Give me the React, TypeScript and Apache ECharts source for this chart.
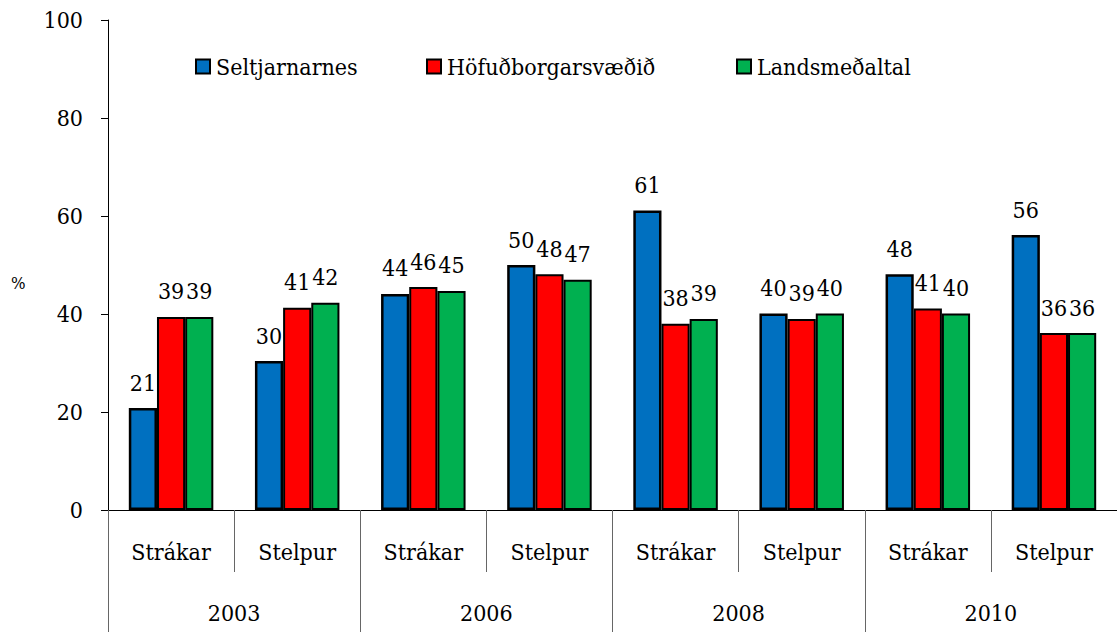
import React, { useEffect, useRef } from "react";
import * as echarts from "echarts";

const subCategories = ["Strákar", "Stelpur", "Strákar", "Stelpur", "Strákar", "Stelpur", "Strákar", "Stelpur"];
const years = ["2003", "2006", "2008", "2010"];
const seriesNames = ["Seltjarnarnes", "Höfuðborgarsvæðið", "Landsmeðaltal"];
const seltjarnarnes = [20.8, 30.4, 44.1, 50.0, 61.1, 40.1, 48.1, 56.1];
const hofudborgarsvaedid = [39.4, 41.3, 45.5, 48.1, 38.0, 39.0, 41.1, 36.1];
const landsmedaltal = [39.4, 42.3, 44.7, 47.0, 39.0, 40.1, 40.1, 36.1];
const colors = ["#0070C0", "#FF0000", "#00B050"];

const FONT = "DejaVu Serif Condensed";
const FS = 23;

export default function App() {
  const ref = useRef<HTMLDivElement>(null);
  useEffect(() => {
    if (!ref.current) return;
    const chart = echarts.init(ref.current, undefined, { renderer: "svg" });
    const values = [seltjarnarnes, hofudborgarsvaedid, landsmedaltal];
    const legendLefts = [195, 426, 736];
    const legendGraphics = seriesNames.map((n, i) => ({
      type: "group",
      left: legendLefts[i],
      top: 55,
      children: [
        {
          type: "rect",
          shape: { x: 0, y: 5, width: 14, height: 14 },
          style: { fill: colors[i], stroke: "#000", lineWidth: 2 },
        },
        {
          type: "text",
          x: 20,
          y: 12,
          style: {
            text: n,
            fontFamily: FONT,
            fontSize: FS,
            fill: "#000",
            verticalAlign: "middle",
            align: "left",
          },
        },
      ],
    }));
    chart.setOption({
      animation: false,
      textStyle: { fontFamily: FONT, color: "#000" },
      grid: { left: 108, right: -7, top: 20, bottom: 122, containLabel: false },
      xAxis: [
        {
          type: "category",
          data: subCategories,
          position: "bottom",
          axisLine: { show: true, lineStyle: { color: "#000", width: 1 } },
          axisTick: { show: true, interval: 0, length: 62, lineStyle: { color: "#666", width: 1 } },
          axisLabel: { interval: 0, margin: 30, fontSize: FS, color: "#000", fontFamily: FONT },
          splitLine: { show: false },
        },
        {
          type: "category",
          data: years,
          position: "bottom",
          axisLine: { show: false },
          axisTick: { show: true, interval: 0, length: 122, lineStyle: { color: "#666", width: 1 } },
          axisLabel: { interval: 0, margin: 91, fontSize: FS, color: "#000", fontFamily: FONT },
          splitLine: { show: false },
        },
      ],
      yAxis: {
        type: "value",
        min: 0,
        max: 100,
        interval: 20,
        axisLine: { show: true, lineStyle: { color: "#000", width: 1 } },
        axisTick: { show: true, length: 7, lineStyle: { color: "#000" } },
        axisLabel: { margin: 25, fontSize: FS, color: "#000", fontFamily: FONT },
        splitLine: { show: false },
      },
      graphic: [
        {
          type: "text",
          left: 11,
          top: 274,
          style: { text: "%", fontSize: 17, fontFamily: FONT, fill: "#000" },
        },
        ...legendGraphics,
      ],
      series: seriesNames.map((n, i) => ({
        name: n,
        type: "bar",
        xAxisIndex: 0,
        data: values[i],
        barGap: "0%",
        barCategoryGap: "33%",
        itemStyle: { color: colors[i], borderColor: "#000", borderWidth: i === 0 ? 2.5 : 2 },
        label: {
          show: true,
          position: "top",
          distance: 14,
          fontSize: FS,
          fontFamily: FONT,
          color: "#000",
          formatter: (p: any) => String(Math.round(p.value)),
        },
      })),
    });
    return () => chart.dispose();
  }, []);
  return (
    <div
      ref={ref}
      style={{ position: "fixed", left: 0, top: 0, width: 1117, height: 632, background: "#fff" }}
    />
  );
}
